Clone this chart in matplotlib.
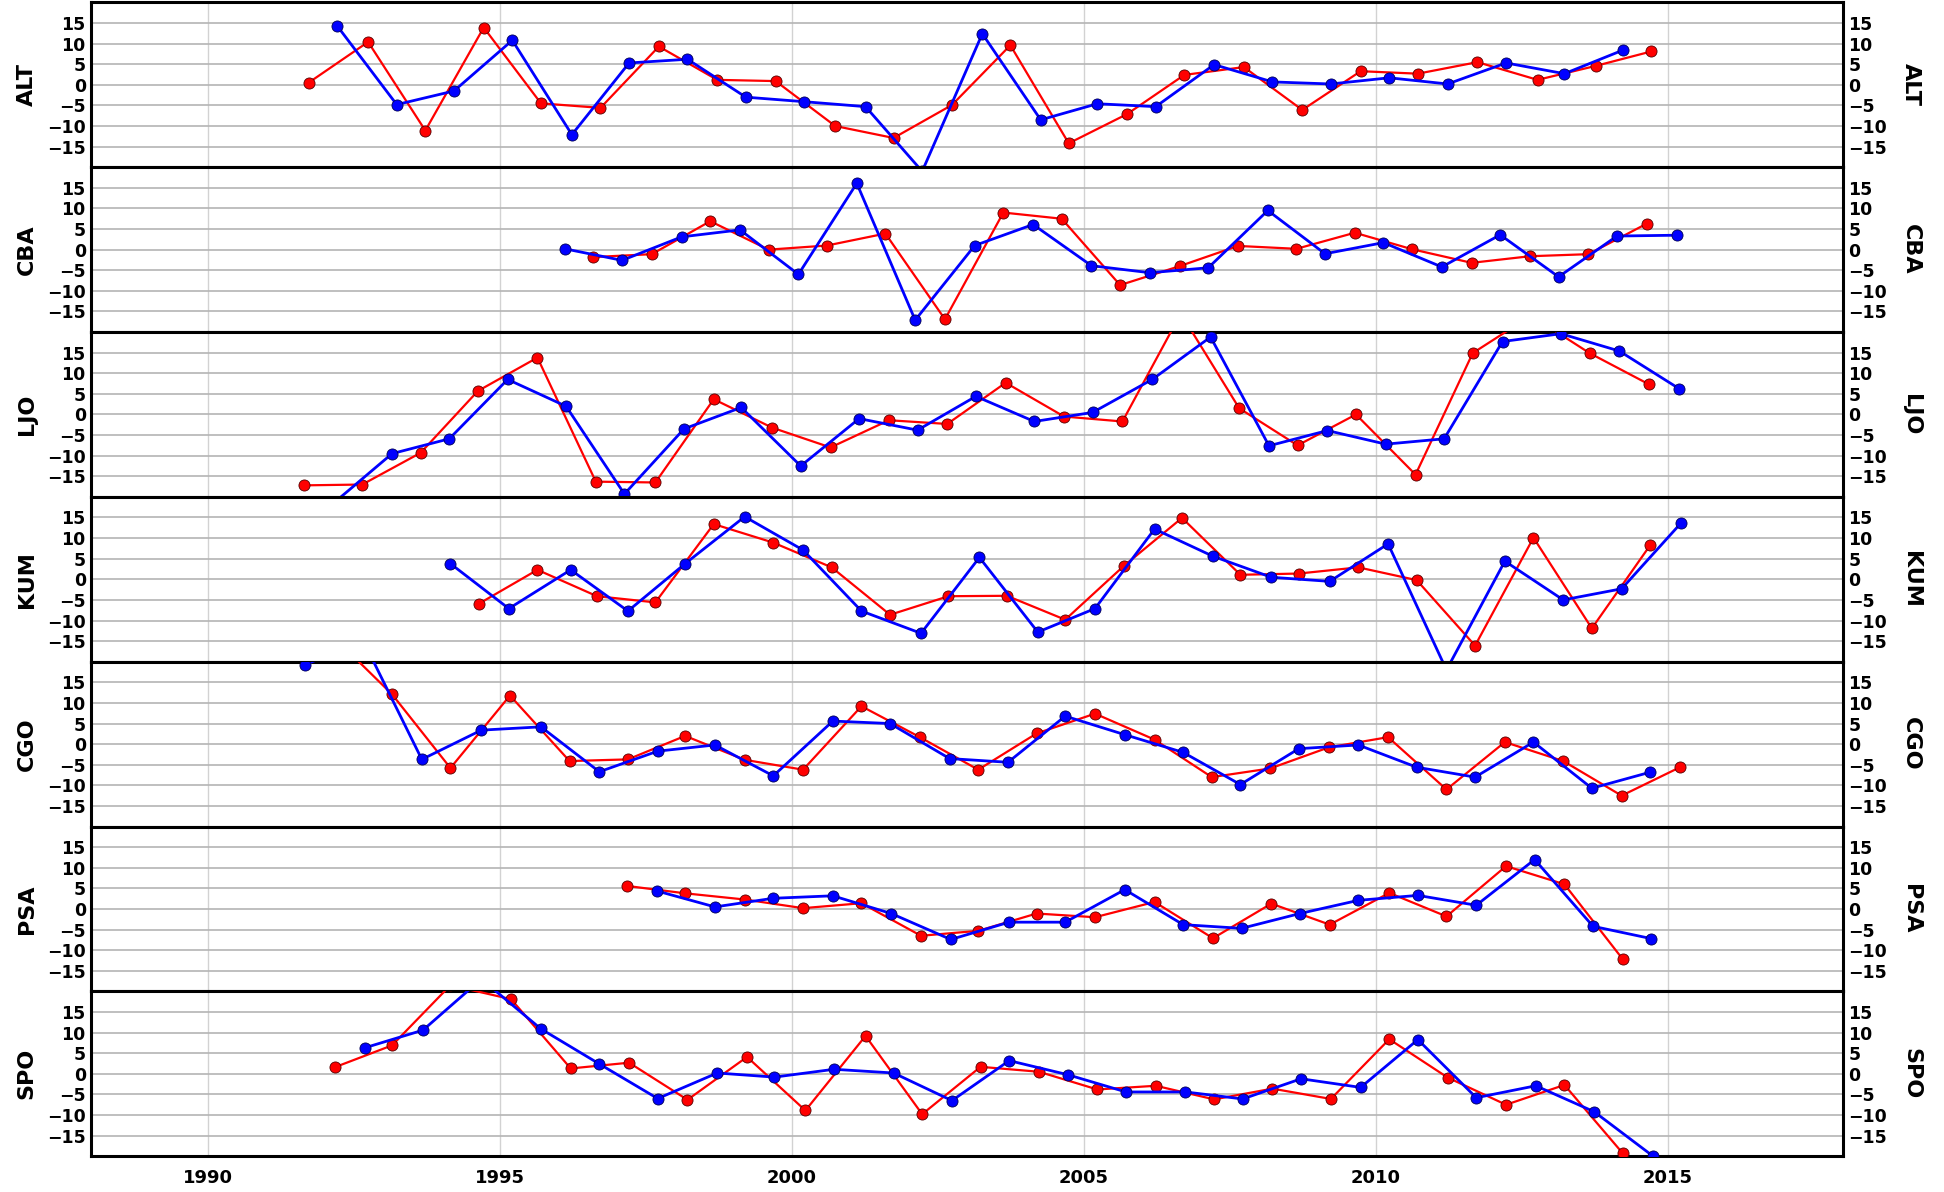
"""Seven-station anomaly panels (red vs blue series), matplotlib classic look."""
import matplotlib
matplotlib.use("Agg")
import matplotlib.pyplot as plt

STATIONS = ["ALT", "CBA", "LJO", "KUM", "CGO", "PSA", "SPO"]

# --- red series -------------------------------------------------------------
alt_red_x = [1991.72, 1992.74, 1993.72, 1994.72, 1995.70, 1996.72, 1997.72, 1998.72,
             1999.72, 2000.74, 2001.74, 2002.74, 2003.74, 2004.74, 2005.74, 2006.72,
             2007.74, 2008.74, 2009.74, 2010.72, 2011.74, 2012.77, 2013.77, 2014.72]
alt_red_y = [0.5, 10.4, -11.1, 13.9, -4.5, -5.6, 9.3, 1.2, 0.9, -10.0, -12.9, -4.9,
             9.6, -14.2, -7.1, 2.4, 4.3, -6.1, 3.3, 2.7, 5.5, 1.2, 4.6, 8.1]
cba_red_x = [1996.60, 1997.60, 1998.60, 1999.60, 2000.60, 2001.60, 2002.62, 2003.62,
             2004.62, 2005.62, 2006.64, 2007.64, 2008.64, 2009.64, 2010.62, 2011.64,
             2012.64, 2013.64, 2014.64]
cba_red_y = [-1.8, -1.1, 6.9, 0.0, 1.0, 3.9, -16.9, 9.0, 7.5, -8.6, -4.0, 0.9, 0.2,
             4.1, 0.1, -3.2, -1.6, -1.1, 6.3]
ljo_red_x = [1991.64, 1992.64, 1993.64, 1994.62, 1995.64, 1996.64, 1997.66, 1998.66,
             1999.66, 2000.66, 2001.66, 2002.66, 2003.66, 2004.66, 2005.66, 2006.66,
             2007.66, 2008.66, 2009.66, 2010.68, 2011.66, 2012.66, 2013.66, 2014.68]
ljo_red_y = [-17.2, -17.0, -9.3, 5.7, 13.8, -16.3, -16.5, 3.7, -3.2, -8.0, -1.4, -2.3,
             7.7, -0.5, -1.7, 24.5, 1.5, -7.5, 0.0, -14.6, 14.9, 24.0, 14.9, 7.3]
kum_red_x = [1994.64, 1995.64, 1996.66, 1997.66, 1998.66, 1999.68, 2000.68, 2001.68,
             2002.68, 2003.68, 2004.68, 2005.68, 2006.68, 2007.68, 2008.68, 2009.70,
             2010.70, 2011.70, 2012.70, 2013.70, 2014.70]
kum_red_y = [-5.9, 2.3, -4.1, -5.6, 13.4, 8.9, 2.9, -8.6, -4.1, -4.0, -9.8, 3.2, 14.9,
             1.1, 1.4, 2.9, -0.2, -16.1, 10.1, -11.9, 8.3]
cgo_red_x = [1992.15, 1993.15, 1994.15, 1995.17, 1996.19, 1997.19, 1998.17, 1999.19,
             2000.19, 2001.19, 2002.19, 2003.19, 2004.19, 2005.19, 2006.21, 2007.19,
             2008.19, 2009.19, 2010.21, 2011.21, 2012.21, 2013.21, 2014.21, 2015.21]
cgo_red_y = [26.0, 12.1, -5.8, 11.8, -4.1, -3.7, 2.0, -3.8, -6.2, 9.2, 1.7, -6.2, 2.6,
             7.4, 1.1, -8.0, -5.9, -0.8, 1.7, -11.0, 0.5, -4.1, -12.5, -5.6]
psa_red_x = [1997.17, 1998.17, 1999.19, 2000.19, 2001.19, 2002.21, 2003.19, 2004.19,
             2005.19, 2006.21, 2007.21, 2008.21, 2009.21, 2010.23, 2011.21, 2012.23,
             2013.23, 2014.23]
psa_red_y = [5.6, 3.8, 2.3, 0.2, 1.4, -6.5, -5.3, -1.1, -2.0, 1.7, -7.1, 1.3, -3.8,
             3.9, -1.8, 10.4, 6.0, -12.2]
spo_red_x = [1992.17, 1993.15, 1994.15, 1995.19, 1996.21, 1997.21, 1998.21, 1999.23,
             2000.23, 2001.26, 2002.23, 2003.23, 2004.23, 2005.23, 2006.23, 2007.23,
             2008.23, 2009.23, 2010.23, 2011.23, 2012.23, 2013.23, 2014.23]
spo_red_y = [1.6, 6.9, 21.5, 18.1, 1.3, 2.7, -6.3, 4.1, -8.9, 9.2, -9.8, 1.7, 0.5,
             -3.8, -2.9, -6.2, -3.6, -6.1, 8.4, -0.9, -7.5, -2.7, -19.3]

# --- blue series ------------------------------------------------------------
alt_blue_x = [1992.21, 1993.23, 1994.21, 1995.21, 1996.23, 1997.21, 1998.21, 1999.21,
              2000.21, 2001.26, 2002.23, 2003.26, 2004.26, 2005.23, 2006.23, 2007.23,
              2008.23, 2009.23, 2010.23, 2011.23, 2012.23, 2013.23, 2014.23]
alt_blue_y = [14.3, -4.8, -1.5, 10.8, -12.1, 5.3, 6.2, -3.0, -4.1, -5.3, -21.0, 12.4,
              -8.5, -4.6, -5.3, 4.9, 0.7, 0.2, 1.7, 0.2, 5.3, 2.7, 8.4]
cba_blue_x = [1996.11, 1997.09, 1998.11, 1999.11, 2000.11, 2001.11, 2002.11, 2003.13,
              2004.13, 2005.13, 2006.13, 2007.13, 2008.15, 2009.13, 2010.13, 2011.13,
              2012.13, 2013.13, 2014.13, 2015.15]
cba_blue_y = [0.2, -2.6, 3.1, 4.8, -6.0, 16.1, -17.1, 1.0, 6.1, -3.9, -5.6, -4.4, 9.5,
              -1.0, 1.7, -4.2, 3.6, -6.6, 3.3, 3.5]
ljo_blue_x = [1992.15, 1993.15, 1994.13, 1995.13, 1996.13, 1997.13, 1998.15, 1999.13,
              2000.15, 2001.15, 2002.15, 2003.15, 2004.15, 2005.15, 2006.17, 2007.17,
              2008.17, 2009.17, 2010.17, 2011.17, 2012.17, 2013.17, 2014.17, 2015.19]
ljo_blue_y = [-21.5, -9.5, -5.9, 8.5, 2.0, -19.3, -3.5, 1.7, -12.5, -1.0, -3.8, 4.4,
              -1.7, 0.5, 8.5, 18.8, -7.6, -3.9, -7.2, -5.9, 17.7, 19.6, 15.4, 6.3]
kum_blue_x = [1994.15, 1995.15, 1996.21, 1997.19, 1998.17, 1999.19, 2000.19, 2001.19,
              2002.21, 2003.21, 2004.21, 2005.19, 2006.21, 2007.21, 2008.21, 2009.21,
              2010.21, 2011.21, 2012.21, 2013.21, 2014.21, 2015.23]
kum_blue_y = [3.8, -7.1, 2.3, -7.7, 3.8, 15.2, 7.1, -7.7, -13.1, 5.3, -12.8, -7.1,
              12.2, 5.6, 0.5, -0.5, 8.6, -22.0, 4.4, -5.0, -2.3, 13.7]
cgo_blue_x = [1991.66, 1992.66, 1993.66, 1994.68, 1995.70, 1996.70, 1997.70, 1998.68,
              1999.68, 2000.70, 2001.68, 2002.70, 2003.70, 2004.68, 2005.70, 2006.70,
              2007.68, 2008.68, 2009.70, 2010.70, 2011.70, 2012.70, 2013.70, 2014.70]
cgo_blue_y = [19.3, 25.0, -3.7, 3.4, 4.2, -6.7, -1.7, -0.2, -7.7, 5.6, 5.0, -3.5,
              -4.4, 6.8, 2.3, -2.0, -9.8, -1.1, -0.2, -5.6, -8.0, 0.5, -10.7, -6.8]
psa_blue_x = [1997.68, 1998.68, 1999.68, 2000.70, 2001.70, 2002.72, 2003.72, 2004.68,
              2005.70, 2006.70, 2007.70, 2008.70, 2009.70, 2010.72, 2011.72, 2012.72,
              2013.72, 2014.72]
psa_blue_y = [4.4, 0.5, 2.6, 3.2, -1.1, -7.4, -3.2, -3.2, 4.7, -3.8, -4.7, -1.1, 2.1,
              3.3, 0.9, 12.0, -4.2, -7.2]
spo_blue_x = [1992.68, 1993.68, 1994.68, 1995.70, 1996.70, 1997.70, 1998.72, 1999.70,
              2000.72, 2001.74, 2002.74, 2003.72, 2004.72, 2005.72, 2006.74, 2007.72,
              2008.72, 2009.74, 2010.72, 2011.72, 2012.74, 2013.74, 2014.74]
spo_blue_y = [6.3, 10.6, 23.0, 10.9, 2.4, -6.0, 0.2, -0.8, 1.1, 0.2, -6.5, 3.2, -0.2,
              -4.4, -4.4, -6.1, -1.2, -3.3, 8.3, -5.8, -2.9, -9.2, -19.9]

RED = {"ALT": (alt_red_x, alt_red_y), "CBA": (cba_red_x, cba_red_y),
       "LJO": (ljo_red_x, ljo_red_y), "KUM": (kum_red_x, kum_red_y),
       "CGO": (cgo_red_x, cgo_red_y), "PSA": (psa_red_x, psa_red_y),
       "SPO": (spo_red_x, spo_red_y)}
BLUE = {"ALT": (alt_blue_x, alt_blue_y), "CBA": (cba_blue_x, cba_blue_y),
        "LJO": (ljo_blue_x, ljo_blue_y), "KUM": (kum_blue_x, kum_blue_y),
        "CGO": (cgo_blue_x, cgo_blue_y), "PSA": (psa_blue_x, psa_blue_y),
        "SPO": (spo_blue_x, spo_blue_y)}

Y_TICKS = [-15, -10, -5, 0, 5, 10, 15]
X_TICKS = [1990, 1995, 2000, 2005, 2010, 2015]


def main():
    fig, axes = plt.subplots(len(STATIONS), 1, sharex=True, figsize=(19.44, 11.92), dpi=100)
    fig.subplots_adjust(left=0.047, right=0.948, top=0.998, bottom=0.030, hspace=0)

    for ax, name in zip(axes, STATIONS):
        rx, ry = RED[name]
        bx, by = BLUE[name]
        ax.plot(rx, ry, "-o", color="#ff0000", lw=1.6, ms=8, mec="#550000", mew=0.6, zorder=3)
        ax.plot(bx, by, "-o", color="#0000ff", lw=2.0, ms=8, mec="#000055", mew=0.6, zorder=4)

        ax.set_xlim(1988, 2018)
        ax.set_ylim(-20, 20)
        ax.set_yticks(Y_TICKS)
        ax.set_xticks(X_TICKS)
        ax.grid(axis="y", color="#b4b4b4", lw=1.2, zorder=0)
        ax.grid(axis="x", color="#d2d2d2", lw=1.0, zorder=0)
        ax.set_axisbelow(True)
        for sp in ax.spines.values():
            sp.set_linewidth(2.2)
        ax.tick_params(axis="y", which="both", length=0, pad=4, labelsize=12.5,
                       left=True, right=True, labelleft=True, labelright=True)
        ax.tick_params(axis="x", length=0, pad=9, labelsize=13)
        for lab in ax.get_yticklabels() + ax.get_xticklabels():
            lab.set_fontweight("bold")

        ax.text(-0.037, 0.5, name, transform=ax.transAxes, rotation=90,
                ha="center", va="center", fontsize=16, fontweight="bold")
        ax.text(1.039, 0.5, name, transform=ax.transAxes, rotation=270,
                ha="center", va="center", fontsize=16, fontweight="bold")

    fig.savefig("out.png", dpi=100)
    plt.close(fig)


if __name__ == "__main__":
    main()
